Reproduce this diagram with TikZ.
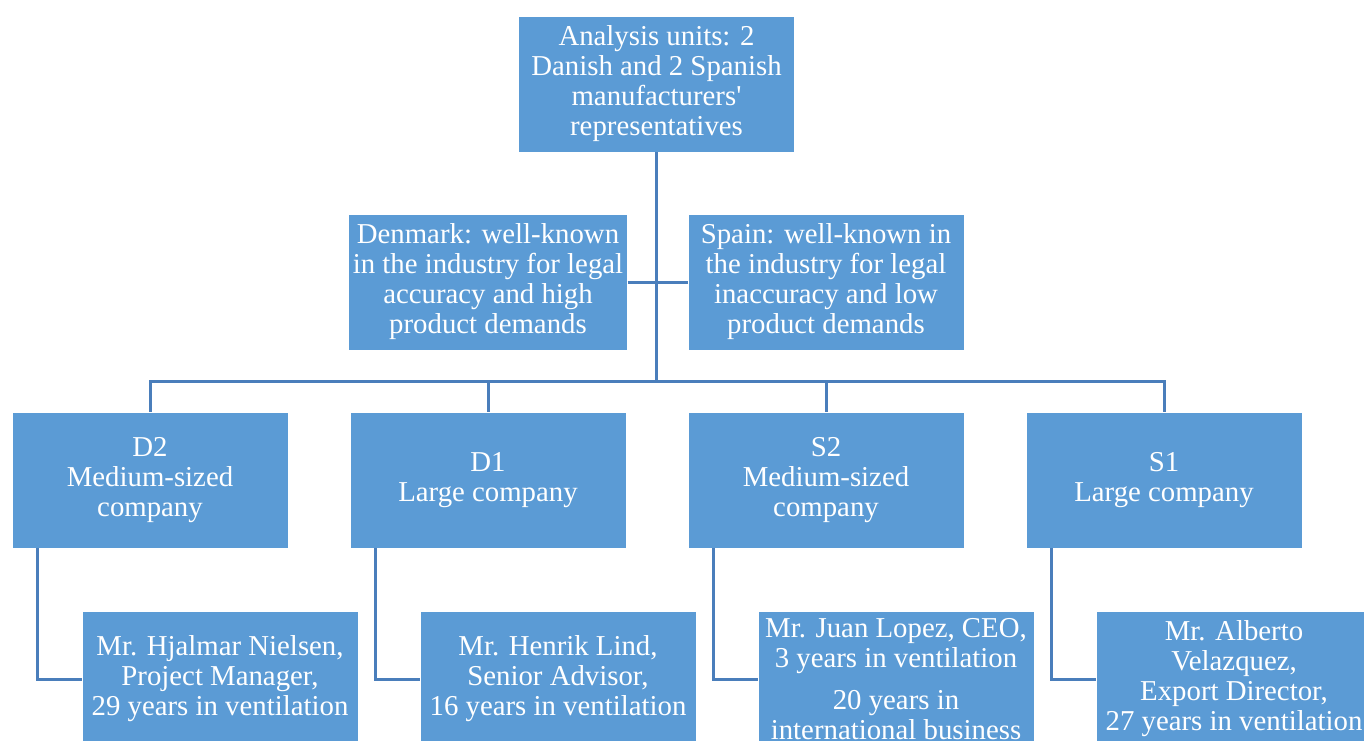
\documentclass[tikz,border=0pt]{standalone}
\usepackage{fontspec}
\setmainfont{Liberation Serif}
\usepackage{tikz}
\usetikzlibrary{positioning,calc}
\usepackage{xcolor}
\definecolor{boxfill}{HTML}{5B9BD5}
\definecolor{linkline}{HTML}{4A7EBB}
\tikzset{
  unit/.style={draw=white,fill=boxfill,thin,align=center,text=white,
    minimum width=138pt,minimum height=68pt,inner sep=2pt,
    font=\fontsize{14.4}{15}\selectfont},
  link/.style={draw=linkline,line width=1.5pt}
}

\begin{document}
\begin{tikzpicture}[x=0.5pt,y=-0.5pt]
        \useasboundingbox (0,0) rectangle (1364,740);
        \node[unit] (units) at (656.5,84) {Analysis units: 2\\Danish and 2 Spanish\\manufacturers\textquotesingle\\representatives};
        \node[unit] (dk) at (488,282) {Denmark: well-known\\in the industry for legal\\accuracy and high\\product demands};
        \node[unit] (es) at (826,282) {Spain: well-known in\\the industry for legal\\inaccuracy and low\\product demands};
        \node[unit] (d2) at (150,480) {D2\\Medium-sized\\company};
        \node[unit] (d1) at (488,480) {D1\\Large company};
        \node[unit] (s2) at (826,480) {S2\\Medium-sized\\company};
        \node[unit] (s1) at (1164,480) {S1\\Large company};
        \node[unit] (pd2) at (220,679) {Mr. Hjalmar Nielsen,\\Project Manager,\\29 years in ventilation};
        \node[unit] (pd1) at (558,679) {Mr. Henrik Lind,\\Senior Advisor,\\16 years in ventilation};
        \node[unit] (ps2) at (896,679) {Mr. Juan Lopez, CEO,\\3 years in ventilation\\[6pt]20 years in\\international business};
        \node[unit] (ps1) at (1234,679) {Mr. Alberto\\Velazquez,\\Export Director,\\27 years in ventilation};
        \coordinate (bus) at (656.5,381);
        \draw[link] (units.south) -- (bus);
        \draw[link] (dk.east) -- (es.west);
        \foreach \c in {d2,d1,s2,s1}
          \draw[link] (bus) -| (\c.north);
        \foreach \c in {d2,d1,s2,s1}
          \draw[link] ([xshift=13pt]\c.south west) |- (p\c.west);
      \end{tikzpicture}
\end{document}
